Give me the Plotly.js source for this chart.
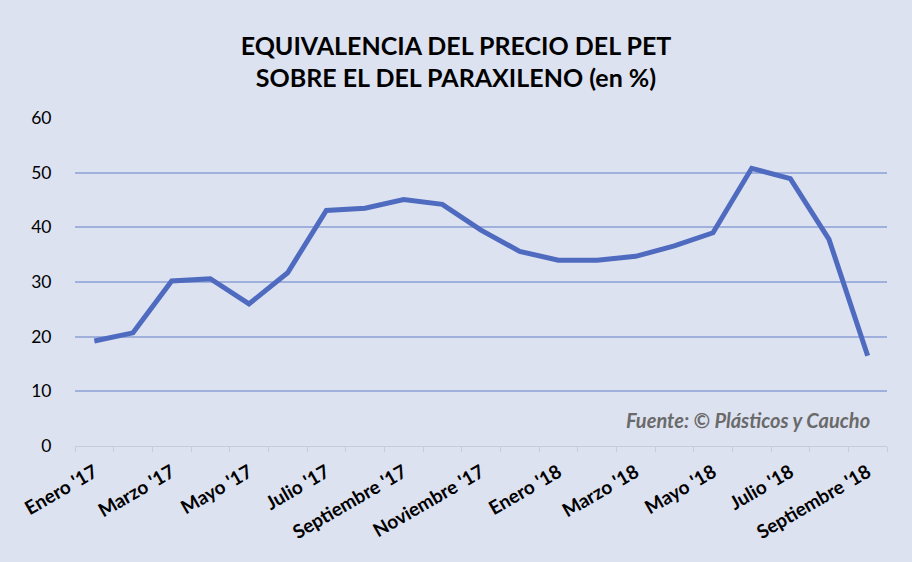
<!DOCTYPE html>
<html>
<head>
<meta charset="utf-8">
<script src="https://cdn.plot.ly/plotly-3.0.1.min.js"></script>
<style>
  html, body { margin: 0; padding: 0; background: #dde2f1; }
  #chart { width: 912px; height: 562px; }
</style>
</head>
<body>
<div id="chart"></div>
<script>
let months = [
    "Enero '17", "Febrero '17", "Marzo '17", "Abril '17", "Mayo '17", "Junio '17",
    "Julio '17", "Agosto '17", "Septiembre '17", "Octubre '17", "Noviembre '17", "Diciembre '17",
    "Enero '18", "Febrero '18", "Marzo '18", "Abril '18", "Mayo '18", "Junio '18",
    "Julio '18", "Agosto '18", "Septiembre '18"
];
let shownLabels = [
    "Enero '17", "Marzo '17", "Mayo '17", "Julio '17", "Septiembre '17", "Noviembre '17",
    "Enero '18", "Marzo '18", "Mayo '18", "Julio '18", "Septiembre '18"
];
let equivalencia = [
    19.2, 20.7, 30.2, 30.6, 26.0, 31.7, 43.1, 43.5, 45.1, 44.2, 39.5, 35.6,
    34.0, 34.0, 34.7, 36.6, 39.0, 50.8, 48.9, 37.8, 16.5
];
let yTicks = [0, 10, 20, 30, 40, 50, 60];

let baseFont = 'Lato, "Open Sans", sans-serif';

// only every other month gets a label, like the original
let tickText = months.map(function (m) {
    return shownLabels.indexOf(m) >= 0 ? m : '';
});

let trace = {
    x: months,
    y: equivalencia,
    type: 'scatter',
    mode: 'lines',
    line: { color: '#4f6bbf', width: 5 },
    hoverinfo: 'x+y'
};

let layout = {
    width: 912,
    height: 562,
    paper_bgcolor: '#dde2f1',
    plot_bgcolor: '#dde2f1',
    margin: { l: 75, r: 25, t: 118, b: 116 },
    showlegend: false,
    font: { family: baseFont, color: '#000' },
    title: {
        text: '<b>EQUIVALENCIA DEL PRECIO DEL PET<br>SOBRE EL DEL PARAXILENO (en %)</b>',
        font: { family: baseFont, size: 25, color: '#000' },
        x: 0.5,
        xanchor: 'center',
        y: 0.903,
        yanchor: 'middle'
    },
    xaxis: {
        type: 'category',
        categoryorder: 'array',
        categoryarray: months,
        range: [-0.5, months.length - 0.5],
        tickmode: 'array',
        tickvals: months,
        ticktext: tickText,
        tickson: 'boundaries',
        ticks: 'outside',
        ticklen: 5,
        tickcolor: '#c8ccd8',
        tickwidth: 1,
        tickangle: -30,
        ticklabelstandoff: 7,
        tickfont: { family: baseFont, size: 19, color: '#000', weight: 'bold' },
        showgrid: false,
        showline: true,
        linecolor: '#c8ccd8',
        linewidth: 1,
        zeroline: false,
        fixedrange: true
    },
    yaxis: {
        range: [0, 60],
        tickmode: 'array',
        tickvals: yTicks,
        ticks: 'outside',
        ticklen: 19,
        tickcolor: 'rgba(0,0,0,0)',
        tickfont: { family: baseFont, size: 17.5, color: '#000' },
        showgrid: true,
        gridcolor: '#9fb0dc',
        gridwidth: 2,
        zeroline: false,
        showline: false,
        fixedrange: true
    },
    annotations: [{
        text: '<b><i>Fuente: © Plásticos y Caucho</i></b>',
        xref: 'paper',
        yref: 'paper',
        x: 0.981,
        y: 0.079,
        xanchor: 'right',
        yanchor: 'middle',
        showarrow: false,
        font: { family: baseFont, size: 20, color: '#6a6a6a' }
    }]
};

Plotly.newPlot('chart', [trace], layout, { displayModeBar: false, staticPlot: true });
</script>
</body>
</html>
